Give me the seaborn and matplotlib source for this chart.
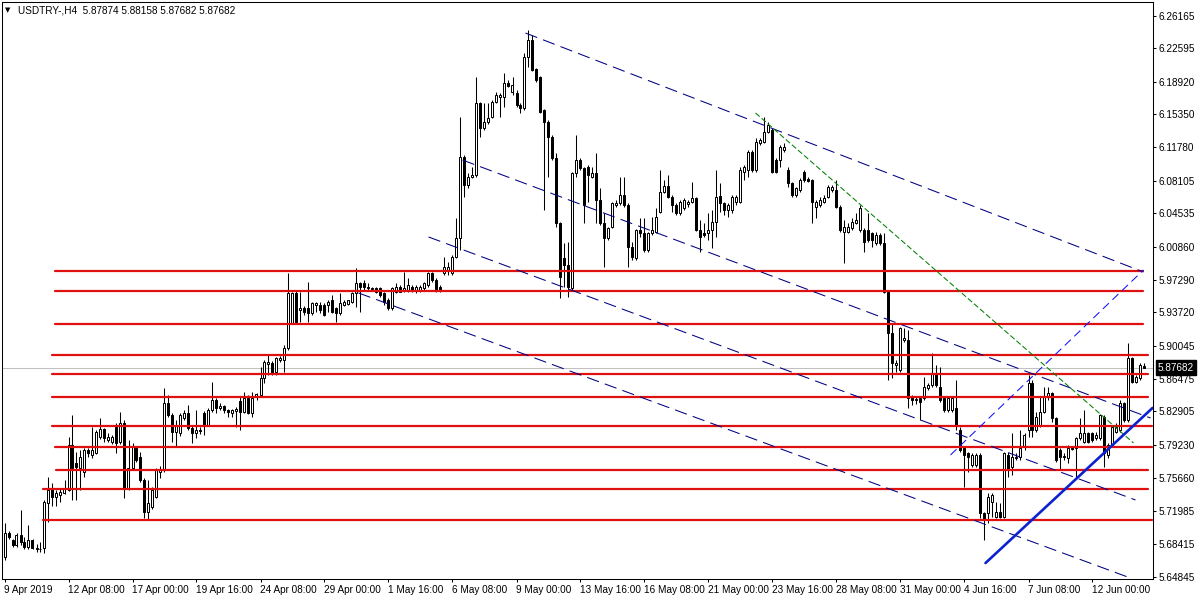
import numpy as np
import matplotlib
matplotlib.use("Agg")
import matplotlib.pyplot as plt
import matplotlib.transforms as mtransforms
import seaborn as sns

# ---------------- data (USDTRY H4 candles) ----------------
opens = [
    5.670, 5.696, 5.688, 5.683, 5.694, 5.686, 5.681, 5.688, 5.680, 5.678,
    5.680, 5.729, 5.744, 5.735, 5.738, 5.740, 5.743, 5.792, 5.773, 5.767,
    5.763, 5.787, 5.781, 5.784, 5.801, 5.810, 5.798, 5.795, 5.812, 5.795,
    5.816, 5.745, 5.767, 5.789, 5.779, 5.754, 5.719, 5.724, 5.735, 5.763,
    5.765, 5.838, 5.825, 5.806, 5.805, 5.822, 5.827, 5.811, 5.805, 5.809,
    5.827, 5.814, 5.830, 5.841, 5.833, 5.835, 5.830, 5.827, 5.829, 5.840,
    5.828, 5.844, 5.827, 5.845, 5.847, 5.865, 5.881, 5.882, 5.872, 5.885,
    5.885, 5.898, 5.926, 5.958, 5.940, 5.942, 5.942, 5.937, 5.945, 5.945,
    5.945, 5.945, 5.951, 5.942, 5.937, 5.945, 5.946, 5.949, 5.958, 5.969,
    5.969, 5.965, 5.964, 5.964, 5.964, 5.958, 5.951, 5.942, 5.959, 5.965,
    5.962, 5.961, 5.965, 5.961, 5.961, 5.964, 5.967, 5.980, 5.973, 5.965,
    5.980, 5.984, 5.980, 5.998, 6.019, 6.107, 6.076, 6.085, 6.087, 6.166,
    6.139, 6.145, 6.151, 6.167, 6.173, 6.173, 6.188, 6.178, 6.177, 6.164,
    6.161, 6.216, 6.235, 6.203, 6.194, 6.158, 6.145, 6.129, 6.106, 6.035,
    5.997, 5.989, 5.964, 6.090, 6.104, 6.095, 6.096, 6.085, 6.090, 6.060,
    6.035, 6.018, 6.030, 6.055, 6.057, 6.065, 6.055, 6.009, 5.997, 6.027,
    6.024, 6.005, 6.024, 6.025, 6.047, 6.069, 6.075, 6.063, 6.055, 6.046,
    6.051, 6.056, 6.058, 6.062, 6.027, 6.024, 6.024, 6.027, 6.036, 6.064,
    6.057, 6.049, 6.049, 6.058, 6.058, 6.091, 6.093, 6.112, 6.093, 6.122,
    6.123, 6.134, 6.136, 6.104, 6.104, 6.115, 6.093, 6.079, 6.065, 6.071,
    6.091, 6.083, 6.082, 6.052, 6.055, 6.058, 6.063, 6.071, 6.071, 6.052,
    6.025, 6.025, 6.029, 6.035, 6.027, 6.027, 6.027, 6.024, 6.013, 6.022,
    6.013, 5.959, 5.915, 5.880, 5.874, 5.907, 5.907, 5.845, 5.841, 5.844,
    5.844, 5.855, 5.858, 5.871, 5.856, 5.844, 5.830, 5.830, 5.833, 5.809,
    5.789, 5.783, 5.770, 5.770, 5.781, 5.718, 5.718, 5.730, 5.713, 5.719,
    5.713, 5.781, 5.768, 5.779, 5.779, 5.790, 5.809, 5.860, 5.809, 5.814,
    5.828, 5.845, 5.849, 5.822, 5.787, 5.780, 5.778, 5.789, 5.789, 5.800,
    5.795, 5.805, 5.805, 5.800, 5.800, 5.823, 5.781, 5.792, 5.806, 5.809,
    5.838, 5.820, 5.887, 5.861, 5.865, 5.87874,
]
highs = [
    5.707, 5.698, 5.690, 5.696, 5.721, 5.692, 5.705, 5.690, 5.684, 5.686,
    5.732, 5.757, 5.751, 5.743, 5.745, 5.754, 5.801, 5.825, 5.785, 5.787,
    5.789, 5.789, 5.812, 5.809, 5.822, 5.811, 5.805, 5.803, 5.816, 5.828,
    5.820, 5.798, 5.794, 5.791, 5.785, 5.756, 5.754, 5.746, 5.767, 5.769,
    5.855, 5.847, 5.827, 5.820, 5.827, 5.831, 5.836, 5.813, 5.831, 5.812,
    5.829, 5.833, 5.861, 5.844, 5.838, 5.836, 5.832, 5.832, 5.834, 5.845,
    5.850, 5.847, 5.850, 5.849, 5.877, 5.885, 5.891, 5.884, 5.888, 5.889,
    5.902, 5.980, 5.959, 5.960, 5.959, 5.944, 5.970, 5.949, 5.949, 5.949,
    5.947, 5.951, 5.956, 5.943, 5.958, 5.951, 5.951, 5.959, 5.986, 5.970,
    5.973, 5.969, 5.965, 5.965, 5.965, 5.959, 5.953, 5.965, 5.969, 5.967,
    5.981, 5.975, 5.967, 5.967, 5.967, 5.970, 5.981, 5.981, 5.975, 5.967,
    5.998, 5.992, 6.000, 6.040, 6.151, 6.109, 6.090, 6.096, 6.194, 6.167,
    6.166, 6.166, 6.169, 6.178, 6.177, 6.199, 6.191, 6.194, 6.180, 6.166,
    6.221, 6.246, 6.240, 6.204, 6.196, 6.160, 6.147, 6.131, 6.111, 6.036,
    6.013, 6.014, 6.091, 6.131, 6.106, 6.096, 6.098, 6.096, 6.111, 6.073,
    6.046, 6.030, 6.058, 6.060, 6.085, 6.085, 6.057, 6.014, 6.028, 6.040,
    6.040, 6.025, 6.041, 6.051, 6.093, 6.082, 6.087, 6.065, 6.057, 6.060,
    6.062, 6.060, 6.080, 6.063, 6.038, 6.035, 6.046, 6.049, 6.093, 6.079,
    6.058, 6.057, 6.065, 6.065, 6.096, 6.098, 6.115, 6.115, 6.128, 6.128,
    6.151, 6.145, 6.139, 6.106, 6.120, 6.122, 6.096, 6.080, 6.074, 6.084,
    6.093, 6.085, 6.083, 6.060, 6.063, 6.065, 6.076, 6.076, 6.082, 6.055,
    6.038, 6.035, 6.040, 6.046, 6.055, 6.029, 6.046, 6.025, 6.025, 6.024,
    6.024, 5.962, 5.926, 5.885, 5.921, 5.920, 5.918, 5.847, 5.845, 5.845,
    5.866, 5.860, 5.893, 5.880, 5.877, 5.845, 5.845, 5.845, 5.863, 5.812,
    5.790, 5.785, 5.783, 5.783, 5.783, 5.719, 5.740, 5.740, 5.730, 5.729,
    5.785, 5.785, 5.805, 5.783, 5.809, 5.805, 5.869, 5.863, 5.828, 5.845,
    5.856, 5.856, 5.850, 5.823, 5.789, 5.783, 5.792, 5.790, 5.801, 5.822,
    5.830, 5.806, 5.806, 5.806, 5.826, 5.825, 5.794, 5.814, 5.816, 5.841,
    5.839, 5.904, 5.888, 5.869, 5.882, 5.88158,
]
lows = [
    5.667, 5.689, 5.681, 5.681, 5.683, 5.678, 5.679, 5.678, 5.675, 5.675,
    5.674, 5.708, 5.725, 5.726, 5.730, 5.739, 5.742, 5.732, 5.732, 5.743,
    5.757, 5.779, 5.778, 5.782, 5.799, 5.795, 5.795, 5.793, 5.784, 5.793,
    5.734, 5.743, 5.765, 5.774, 5.752, 5.712, 5.711, 5.722, 5.734, 5.756,
    5.763, 5.823, 5.795, 5.791, 5.802, 5.820, 5.809, 5.794, 5.800, 5.804,
    5.803, 5.813, 5.828, 5.827, 5.830, 5.827, 5.823, 5.823, 5.812, 5.809,
    5.827, 5.826, 5.823, 5.841, 5.845, 5.860, 5.869, 5.869, 5.869, 5.883,
    5.872, 5.896, 5.924, 5.926, 5.927, 5.934, 5.927, 5.934, 5.938, 5.937,
    5.933, 5.938, 5.937, 5.927, 5.934, 5.944, 5.945, 5.947, 5.943, 5.938,
    5.962, 5.962, 5.962, 5.958, 5.954, 5.945, 5.940, 5.940, 5.958, 5.959,
    5.959, 5.959, 5.959, 5.958, 5.959, 5.962, 5.965, 5.970, 5.959, 5.959,
    5.978, 5.978, 5.978, 5.997, 6.005, 6.063, 6.073, 6.084, 6.085, 6.129,
    6.137, 6.143, 6.150, 6.166, 6.151, 6.162, 6.184, 6.175, 6.162, 6.155,
    6.158, 6.205, 6.201, 6.189, 6.155, 6.049, 6.085, 6.104, 6.030, 5.953,
    5.965, 5.954, 5.962, 6.085, 6.093, 6.035, 6.058, 6.084, 6.035, 6.033,
    5.987, 6.016, 6.029, 6.052, 6.055, 6.052, 5.987, 5.994, 5.994, 6.020,
    6.003, 6.003, 6.022, 6.024, 6.046, 6.068, 6.062, 6.047, 6.044, 6.044,
    6.049, 6.052, 6.057, 6.026, 6.003, 6.020, 6.016, 6.008, 6.020, 6.047,
    6.044, 6.041, 6.046, 6.055, 6.057, 6.082, 6.085, 6.091, 6.091, 6.120,
    6.122, 6.133, 6.090, 6.090, 6.096, 6.112, 6.074, 6.063, 6.063, 6.069,
    6.080, 6.080, 6.035, 6.040, 6.052, 6.057, 6.062, 6.069, 6.051, 6.025,
    5.991, 6.024, 6.027, 6.034, 6.025, 6.003, 6.014, 6.009, 6.011, 6.011,
    5.958, 5.863, 5.865, 5.872, 5.872, 5.905, 5.833, 5.836, 5.837, 5.820,
    5.841, 5.852, 5.856, 5.856, 5.839, 5.828, 5.828, 5.828, 5.809, 5.785,
    5.746, 5.763, 5.768, 5.768, 5.712, 5.688, 5.707, 5.713, 5.712, 5.712,
    5.712, 5.757, 5.759, 5.776, 5.776, 5.787, 5.801, 5.801, 5.806, 5.812,
    5.827, 5.841, 5.817, 5.774, 5.765, 5.776, 5.773, 5.787, 5.756, 5.798,
    5.794, 5.794, 5.795, 5.798, 5.798, 5.768, 5.778, 5.790, 5.805, 5.806,
    5.817, 5.817, 5.860, 5.860, 5.863, 5.87682,
]
closes = [
    5.696, 5.692, 5.683, 5.694, 5.686, 5.681, 5.688, 5.680, 5.678, 5.679,
    5.730, 5.743, 5.735, 5.740, 5.741, 5.745, 5.792, 5.767, 5.768, 5.779,
    5.787, 5.784, 5.787, 5.806, 5.810, 5.800, 5.801, 5.801, 5.794, 5.816,
    5.745, 5.767, 5.790, 5.776, 5.754, 5.719, 5.729, 5.743, 5.765, 5.765,
    5.838, 5.825, 5.806, 5.814, 5.825, 5.827, 5.811, 5.805, 5.809, 5.807,
    5.814, 5.830, 5.841, 5.833, 5.835, 5.830, 5.828, 5.830, 5.832, 5.828,
    5.844, 5.827, 5.844, 5.848, 5.865, 5.883, 5.883, 5.871, 5.887, 5.887,
    5.898, 5.958, 5.958, 5.927, 5.942, 5.938, 5.937, 5.947, 5.947, 5.940,
    5.934, 5.949, 5.938, 5.937, 5.947, 5.949, 5.951, 5.958, 5.969, 5.965,
    5.965, 5.964, 5.963, 5.959, 5.956, 5.949, 5.942, 5.964, 5.965, 5.959,
    5.964, 5.967, 5.962, 5.965, 5.965, 5.969, 5.980, 5.973, 5.962, 5.962,
    5.987, 5.987, 5.998, 6.019, 6.107, 6.076, 6.085, 6.087, 6.166, 6.139,
    6.145, 6.150, 6.167, 6.175, 6.175, 6.188, 6.185, 6.186, 6.164, 6.161,
    6.216, 6.235, 6.202, 6.191, 6.156, 6.145, 6.129, 6.106, 6.035, 5.976,
    5.989, 5.965, 6.090, 6.104, 6.095, 6.055, 6.087, 6.090, 6.060, 6.035,
    6.018, 6.029, 6.057, 6.057, 6.065, 6.055, 6.009, 5.998, 6.027, 6.024,
    6.005, 6.024, 6.027, 6.041, 6.069, 6.075, 6.063, 6.055, 6.046, 6.058,
    6.060, 6.058, 6.062, 6.027, 6.020, 6.022, 6.027, 6.036, 6.063, 6.057,
    6.049, 6.055, 6.063, 6.063, 6.093, 6.096, 6.112, 6.093, 6.123, 6.126,
    6.134, 6.142, 6.091, 6.091, 6.118, 6.118, 6.079, 6.065, 6.073, 6.082,
    6.082, 6.081, 6.058, 6.058, 6.060, 6.062, 6.074, 6.074, 6.052, 6.027,
    6.030, 6.030, 6.036, 6.038, 6.051, 6.014, 6.016, 6.016, 6.022, 6.013,
    5.959, 5.915, 5.882, 5.882, 5.920, 5.909, 5.844, 5.841, 5.842, 5.839,
    5.856, 5.858, 5.871, 5.858, 5.841, 5.830, 5.844, 5.844, 5.814, 5.787,
    5.781, 5.779, 5.781, 5.781, 5.718, 5.710, 5.735, 5.738, 5.719, 5.713,
    5.783, 5.765, 5.779, 5.778, 5.789, 5.803, 5.860, 5.809, 5.823, 5.828,
    5.845, 5.849, 5.822, 5.776, 5.779, 5.779, 5.789, 5.788, 5.800, 5.805,
    5.805, 5.795, 5.798, 5.803, 5.825, 5.783, 5.792, 5.812, 5.812, 5.838,
    5.820, 5.887, 5.861, 5.867, 5.880, 5.87682,
]

x_labels = ["9 Apr 2019", "12 Apr 08:00", "17 Apr 00:00", "19 Apr 16:00",
            "24 Apr 08:00", "29 Apr 00:00", "1 May 16:00", "6 May 08:00",
            "9 May 00:00", "13 May 16:00", "16 May 08:00", "21 May 00:00",
            "23 May 16:00", "28 May 08:00", "31 May 00:00", "4 Jun 16:00",
            "7 Jun 08:00", "12 Jun 00:00"]
label_step = 16

y_tick_values = [6.26165, 6.22595, 6.18920, 6.15350, 6.11780, 6.08105,
                 6.04535, 6.00860, 5.97290, 5.93720, 5.90045, 5.86475,
                 5.82905, 5.79230, 5.75660, 5.71985, 5.68415, 5.64845]

# horizontal support / resistance levels (price, first bar, last bar)
level_prices = [5.9829, 5.9600, 5.9245, 5.8906, 5.8693, 5.8447,
                5.8130, 5.7900, 5.7654, 5.7441, 5.7102]
level_start = [12.75, 12.75, 12.75, 12.0, 12.0, 12.0,
               12.0, 12.75, 13.0, 9.75, 9.75]
level_end = [284.75, 284.75, 284.75, 286.0, 286.0, 286.0,
             287.0, 287.0, 286.0, 286.0, 287.0]

# navy dashed channel lines (bar, price) -> (bar, price)
chan_x0 = [130.25, 114.5, 106.0, 88.5]
chan_p0 = [6.2425, 6.1037, 6.0196, 5.9584]
chan_x1 = [284.75, 286.5, 282.75, 281.5]
chan_p1 = [5.9813, 5.8217, 5.7321, 5.6468]

green_x = [187.75, 282.25]
green_p = [6.1551, 5.7944]
thin_blue_x = [236.5, 284.75]
thin_blue_p = [5.7813, 5.9835]
thick_blue_x = [245.25, 287.0]
thick_blue_p = [5.6632, 5.8327]

symbol_text = "USDTRY-,H4  5.87874 5.88158 5.87682 5.87682"
last_price = 5.87682

# ---------------- style ----------------
sns.set_theme(style="white")
plt.rcParams['font.family'] = ['Liberation Sans', 'DejaVu Sans']
plt.rcParams['lines.scale_dashes'] = False
plt.rcParams['axes.linewidth'] = 0.75

W, H = 1200, 600
fig = plt.figure(figsize=(12, 6), dpi=100)
fig.patch.set_facecolor('white')
left_px, right_px, top_px, bot_px = 2, 1153, 2, 579
ax = fig.add_axes([left_px / W, 1 - bot_px / H,
                   (right_px - left_px) / W, (bot_px - top_px) / H])
ax.set_facecolor('white')

idx = np.arange(len(opens))
o = np.array(opens); h = np.array(highs); l = np.array(lows); c = np.array(closes)
bull = c >= o

# grey current-price line
ax.axhline(last_price, color='#c0c0c0', lw=0.75, zorder=1)

# candles
ax.vlines(idx, l, h, color='black', linewidth=0.75, zorder=2)
lo = np.minimum(o, c)
hh = np.abs(c - o)
ax.bar(idx[bull], hh[bull], bottom=lo[bull], width=0.5, color='white',
       edgecolor='black', linewidth=0.72, zorder=3)
ax.bar(idx[~bull], hh[~bull], bottom=lo[~bull], width=0.5, color='black',
       edgecolor='black', linewidth=0.72, zorder=3)

# horizontal red levels
for p, s, e in zip(level_prices, level_start, level_end):
    sns.lineplot(x=[s, e], y=[p, p], ax=ax, color='#e01010', linewidth=1.6,
                 estimator=None, sort=False, legend=False, zorder=5)

# navy dashed channel lines
for x0, p0, x1, p1 in zip(chan_x0, chan_p0, chan_x1, chan_p1):
    sns.lineplot(x=[x0, x1], y=[p0, p1], ax=ax, color='#000080', linewidth=0.75,
                 linestyle=(0, (9, 4.5)), estimator=None, sort=False,
                 legend=False, zorder=6)

sns.lineplot(x=green_x, y=green_p, ax=ax, color='#008000', linewidth=0.75,
             linestyle=(0, (4, 1.8)), estimator=None, sort=False, legend=False, zorder=6)
sns.lineplot(x=thin_blue_x, y=thin_blue_p, ax=ax, color='#1010ff', linewidth=0.75,
             linestyle=(0, (6, 3.5)), estimator=None, sort=False, legend=False, zorder=6)
sns.lineplot(x=thick_blue_x, y=thick_blue_p, ax=ax, color='#0c22d0', linewidth=1.9,
             estimator=None, sort=False, legend=False, zorder=7)

# ---------------- axes ----------------
px_per_bar = 4.0
xmin = -0.625
ax.set_xlim(xmin, xmin + (right_px - left_px) / px_per_bar)
price_per_px = 0.001093
ax.set_ylim(6.2786 - price_per_px * bot_px, 6.2786 - price_per_px * top_px)

ax.yaxis.tick_right()
ax.set_yticks(y_tick_values)
ax.set_yticklabels([f"{v:.5f}" for v in y_tick_values])
ax.tick_params(axis='y', which='major', direction='out', length=2.5, width=0.75,
               pad=1.5, labelsize=7.2, colors='black', right=True, left=False)
ax.set_xticks(np.arange(len(x_labels)) * label_step)
ax.set_xticklabels(x_labels, ha='left')
ax.tick_params(axis='x', which='major', direction='out', length=2.5, width=0.75,
               pad=1.5, labelsize=7.2, colors='black', bottom=True, top=False)
ax.set_xlabel('')
ax.set_ylabel('')
for s in ax.spines.values():
    s.set_visible(True)
    s.set_color('black')
    s.set_linewidth(0.75)
ax.grid(False)

# current price box on the price scale
trans = mtransforms.blended_transform_factory(ax.transAxes, ax.transData)
ax.text(1 + 5 / (right_px - left_px), last_price, f"{last_price:.5f}", transform=trans,
        color='white', fontsize=7.2, va='center', ha='left', clip_on=False, zorder=10,
        bbox=dict(boxstyle='square,pad=0.22', fc='black', ec='black'))

# symbol header
fig.text(5 / W, 1 - 10.5 / H, "\u25BC", fontsize=5, va='center', ha='left',
         family=['DejaVu Sans'], color='black')
fig.text(18 / W, 1 - 10.5 / H, symbol_text, fontsize=7.2, va='center', ha='left',
         color='black')

fig.savefig("out.png", dpi=100, facecolor='white')
